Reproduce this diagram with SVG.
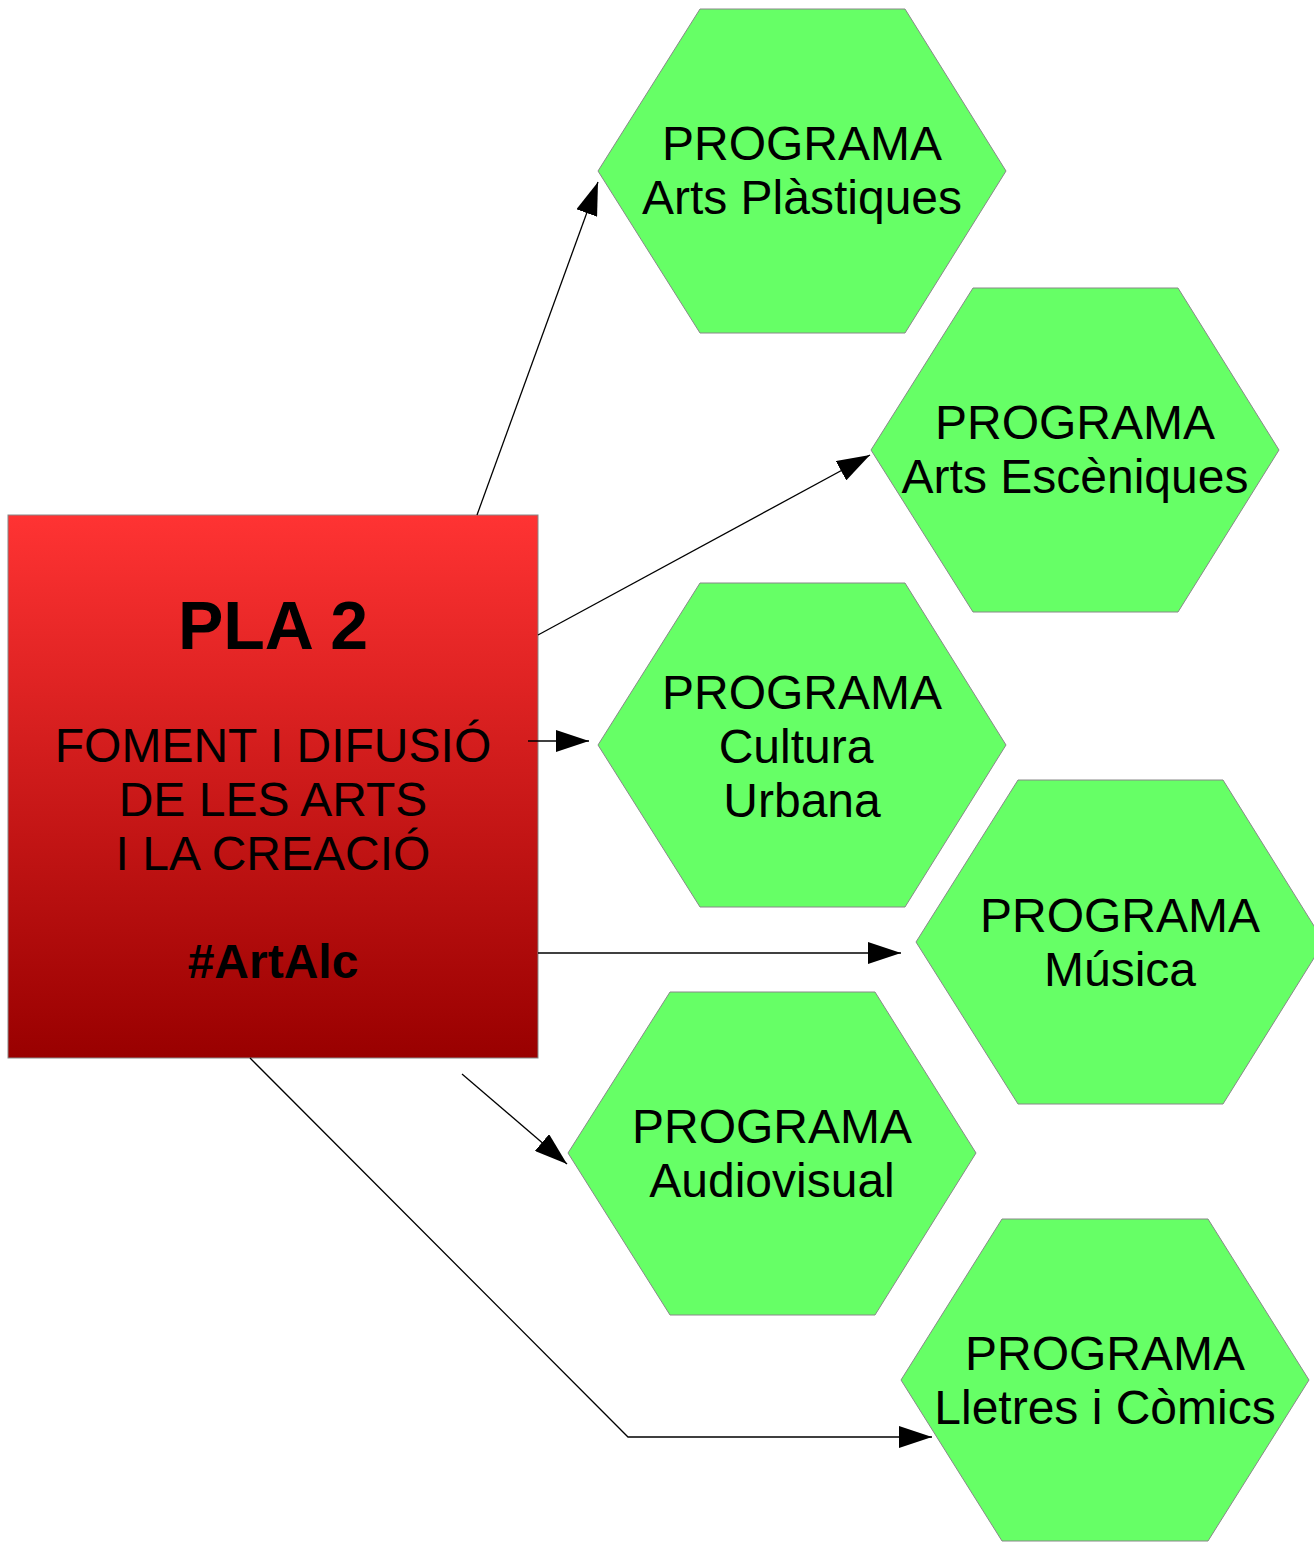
<svg xmlns="http://www.w3.org/2000/svg" width="1314" height="1542" viewBox="0 0 1314 1542">
<style>
.hex{fill:#66ff66;stroke:#888888;stroke-width:1}
.t{font-family:"Liberation Sans",Arial,sans-serif;font-size:48px;fill:#000;text-anchor:middle}
.b{font-weight:bold}
.c{fill:none;stroke:#000;stroke-width:1.3}
</style>
<defs>
<linearGradient id="red" x1="0" y1="0" x2="0" y2="1">
<stop offset="0" stop-color="#ff3333"/>
<stop offset="1" stop-color="#990000"/>
</linearGradient>
<marker id="ah" viewBox="0 0 33 22" refX="33" refY="11" markerWidth="33" markerHeight="22" markerUnits="userSpaceOnUse" orient="auto">
<path d="M0,0 L33,11 L0,22 Z" fill="#000"/>
</marker>
</defs>
<rect width="1314" height="1542" fill="#fff"/>
<g id="pla2">
<rect x="8" y="515" width="530" height="543" fill="url(#red)" stroke="#888" stroke-width="1"/>
<text class="t b" x="273" y="649" style="font-size:68px">PLA 2</text>
<text class="t" x="273" y="762">FOMENT I DIFUSIÓ</text>
<text class="t" x="273" y="816">DE LES ARTS</text>
<text class="t" x="273" y="870">I LA CREACIÓ</text>
<text class="t b" x="273" y="978">#ArtAlc</text>
</g>
<g id="arts-plastiques">
<polygon class="hex" points="598,171 700,9 905,9 1006,171 905,333 700,333"/>
<text class="t" x="802" y="160">PROGRAMA</text>
<text class="t" x="802" y="214">Arts Plàstiques</text>
</g>
<g id="arts-esceniques">
<polygon class="hex" points="871,450 973,288 1178,288 1279,450 1178,612 973,612"/>
<text class="t" x="1075" y="439">PROGRAMA</text>
<text class="t" x="1075" y="493">Arts Escèniques</text>
</g>
<g id="cultura-urbana">
<polygon class="hex" points="598,745 700,583 905,583 1006,745 905,907 700,907"/>
<text class="t" x="802" y="709">PROGRAMA</text>
<text class="t" x="796" y="763">Cultura</text>
<text class="t" x="802" y="817">Urbana</text>
</g>
<g id="musica">
<polygon class="hex" points="916,942 1018,780 1223,780 1324,942 1223,1104 1018,1104"/>
<text class="t" x="1120" y="932">PROGRAMA</text>
<text class="t" x="1120" y="986">Música</text>
</g>
<g id="audiovisual">
<polygon class="hex" points="568,1153 670,992 875,992 976,1153 875,1315 670,1315"/>
<text class="t" x="772" y="1143">PROGRAMA</text>
<text class="t" x="772" y="1197">Audiovisual</text>
</g>
<g id="lletres-comics">
<polygon class="hex" points="901,1380 1002,1219 1208,1219 1309,1380 1208,1541 1002,1541"/>
<text class="t" x="1105" y="1370">PROGRAMA</text>
<text class="t" x="1105" y="1424">Lletres i Còmics</text>
</g>
<g id="connectors">
<path class="c" d="M477,515 L598,182" marker-end="url(#ah)"/>
<path class="c" d="M538,635 L870,455" marker-end="url(#ah)"/>
<path class="c" d="M528,741 L589,741" marker-end="url(#ah)"/>
<path class="c" d="M538,953 L901,953" marker-end="url(#ah)"/>
<path class="c" d="M462,1074 L567,1164" marker-end="url(#ah)"/>
<path class="c" d="M250,1058 L628,1437 L932,1437" marker-end="url(#ah)"/>
</g>
</svg>
